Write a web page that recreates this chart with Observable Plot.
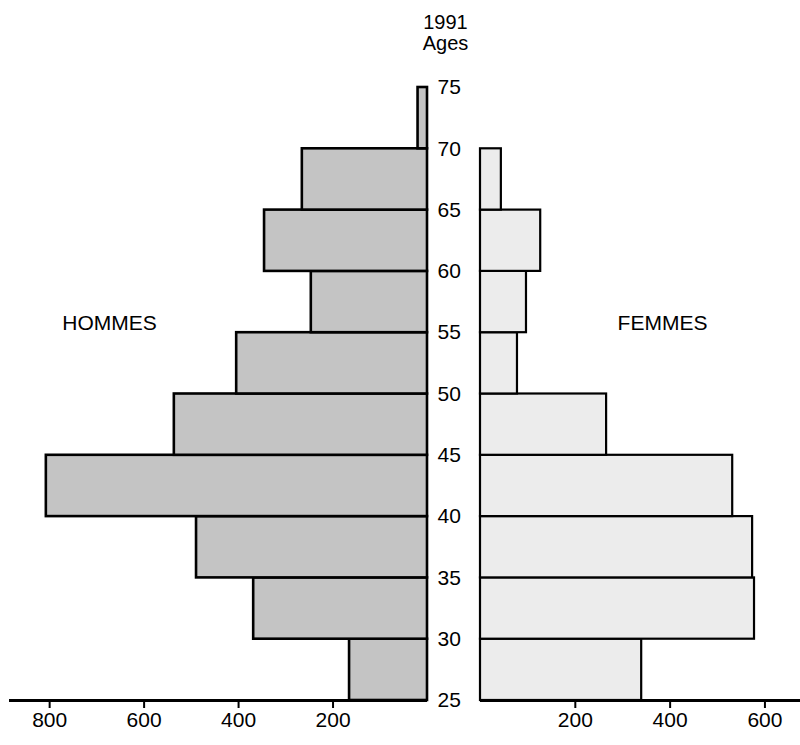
<!DOCTYPE html>
<html><head><meta charset="utf-8">
<script src="https://cdn.jsdelivr.net/npm/d3@7"></script>
<script src="https://cdn.jsdelivr.net/npm/@observablehq/plot@0.6"></script>
<style>
body{margin:0;background:#fff;}
#chart{position:relative;width:800px;height:745px;display:flex;background:#fff;}
#chart svg{display:block;}
</style></head><body><div id="chart"></div>
<script>
// Age groups (lower bound of each 5-year band)
const ageStarts = [25, 30, 35, 40, 45, 50, 55, 60, 65, 70];
const ageTicks = [25, 30, 35, 40, 45, 50, 55, 60, 65, 70, 75];
// Effectifs
const hommes = [165, 368, 489, 807, 536, 404, 246, 345, 265, 20];
const femmes = [340, 578, 574, 532, 266, 78, 97, 127, 44, 0];
const hommesTicks = [200, 400, 600, 800];
const femmesTicks = [200, 400, 600];
const titleLines = "1991\nAges";

const rowsH = ageStarts.map((a, i) => ({a0: a, a1: a + 5, v: hommes[i]})).filter(d => d.v > 0);
const rowsF = ageStarts.map((a, i) => ({a0: a, a1: a + 5, v: femmes[i]})).filter(d => d.v > 0);
const font = "'Liberation Sans', Arial, Helvetica, sans-serif";
const style = {fontFamily: font, fontSize: "21px", background: "transparent", color: "#000", overflow: "visible"};

const left = Plot.plot({
  width: 475, height: 745,
  marginLeft: 9, marginRight: 48, marginTop: 87, marginBottom: 45,
  style,
  x: {domain: [0, 885], reverse: true},
  y: {domain: [25, 75]},
  marks: [
    Plot.rect(rowsH, {x1: 0, x2: "v", y1: "a0", y2: "a1", fill: "#c4c4c4", stroke: "#000", strokeWidth: 2.6}),
    Plot.ruleY([25], {stroke: "#000", strokeWidth: 3}),
    Plot.axisX({ticks: hommesTicks, tickSize: 8, tickPadding: 4, strokeWidth: 2, label: null, fontSize: 21}),
    Plot.axisY({anchor: "right", ticks: ageTicks, tickSize: 0, tickPadding: 10, label: null, fontSize: 21}),
    Plot.text(["HOMMES"], {frameAnchor: "top-left", dx: 100, dy: 228, textAnchor: "middle", fontSize: 21}),
    Plot.text([titleLines], {frameAnchor: "top-right", dx: 18, dy: -73, lineAnchor: "top", lineHeight: 1.05, textAnchor: "middle", fontSize: 20})
  ]
});

const right = Plot.plot({
  width: 325, height: 745,
  marginLeft: 5, marginRight: 0, marginTop: 87, marginBottom: 45,
  style,
  x: {domain: [0, 675]},
  y: {domain: [25, 75], axis: null},
  marks: [
    Plot.rect(rowsF, {x1: 0, x2: "v", y1: "a0", y2: "a1", fill: "#ececec", stroke: "#000", strokeWidth: 2.2}),
    Plot.ruleY([25], {stroke: "#000", strokeWidth: 3}),
    Plot.axisX({ticks: femmesTicks, tickSize: 8, tickPadding: 4, strokeWidth: 2, label: null, fontSize: 21}),
    Plot.text(["FEMMES"], {frameAnchor: "top-left", dx: 182, dy: 228, textAnchor: "middle", fontSize: 21})
  ]
});

const chart = document.getElementById("chart");
chart.appendChild(left);
chart.appendChild(right);
</script></body></html>
